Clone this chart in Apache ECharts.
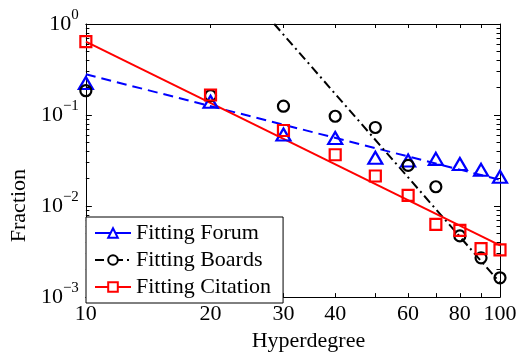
<!DOCTYPE html>
<html>
<head>
<meta charset="utf-8">
<script src="https://cdn.jsdelivr.net/npm/echarts@6.0.0/dist/echarts.min.js"></script>
<style>
	html, body { margin: 0; padding: 0; background: #fff; }
	#chart { width: 524px; height: 357px; }
</style>
</head>
<body>
<div id="chart"></div>
<script>
const degrees = [10, 20, 30, 40, 50, 60, 70, 80, 90, 100]

const forum = [0.225, 0.14, 0.061, 0.056, 0.034, 0.0316, 0.033, 0.029, 0.025, 0.021]
const boards = [0.185, 0.163, 0.125, 0.097, 0.073, 0.028, 0.0163, 0.0047, 0.0027, 0.00163]
const citation = [0.64, 0.166, 0.0676, 0.0366, 0.0214, 0.0131, 0.0063, 0.0054, 0.0034, 0.0033]

// fitted power laws, end points only
const forumFitX = [10, 100]
const forumFitY = [0.28, 0.0194]
const boardsFitX = [28.5, 100]
const boardsFitY = [1, 0.00144]
const citationFitX = [10, 100]
const citationFitY = [0.64, 0.0037]

const xTicks = [10, 20, 30, 40, 50, 60, 70, 80, 90, 100]
const xLabels = [10, 20, 30, 40, 60, 80, 100]
const yMinorTicks = [
	0.002, 0.003, 0.004, 0.005, 0.006, 0.007, 0.008, 0.009,
	0.02, 0.03, 0.04, 0.05, 0.06, 0.07, 0.08, 0.09,
	0.2, 0.3, 0.4, 0.5, 0.6, 0.7, 0.8, 0.9
]

const font = 'Liberation Serif'
const pairs = (xs, ys) => xs.map((x, i) => [x, ys[i]])

const supLabel = (v) => {
	const e = Math.round(Math.log10(v))
	return '{b|10}{s|' + (e === 0 ? '0' : '\u2212' + -e) + '}'
}

const logX = (extra) => ({
	type: 'log',
	min: 10,
	max: 100,
	splitLine: { show: false },
	axisLine: { show: true, lineStyle: { color: '#000', width: 1 } },
	axisTick: { show: true, inside: true, length: 4, customValues: xTicks, lineStyle: { color: '#000' } },
	axisLabel: { show: false },
	...extra
})

const logY = (extra) => ({
	type: 'log',
	min: 0.001,
	max: 1,
	splitLine: { show: false },
	axisLine: { show: true, lineStyle: { color: '#000', width: 1 } },
	axisTick: { show: true, inside: true, length: 6, lineStyle: { color: '#000' } },
	axisLabel: { show: false },
	...extra
})

const minorY = (position) => logY({
	position,
	axisLine: { show: false },
	axisTick: { show: true, inside: true, length: 3.5, customValues: yMinorTicks, lineStyle: { color: '#000' } }
})

const fitLine = (name, xs, ys, color, dash, symbol) => ({
	name,
	type: 'line',
	data: pairs(xs, ys),
	symbol,
	showSymbol: false,
	silent: true,
	z: 2,
	lineStyle: { color, width: 2, type: dash },
	itemStyle: { color: '#fff', borderColor: color, borderWidth: 1.8 }
})

const markers = (name, ys, color, symbol, size) => ({
	name,
	type: 'scatter',
	data: pairs(degrees, ys),
	symbol,
	symbolSize: size,
	silent: true,
	z: 3,
	itemStyle: { color: 'rgba(0,0,0,0)', borderColor: color, borderWidth: 2.2, opacity: 1 }
})

const chart = echarts.init(document.getElementById('chart'), null, { renderer: 'canvas' })

chart.setOption({
	animation: false,
	backgroundColor: '#fff',
	grid: { left: 82, right: 24, top: 24, bottom: 50, containLabel: false },
	xAxis: [
		logX({
			position: 'bottom',
			axisLabel: {
				show: true,
				customValues: xLabels,
				margin: 6,
				color: '#000',
				fontFamily: font,
				fontSize: 22
			},
			name: 'Hyperdegree',
			nameLocation: 'middle',
			nameGap: 29,
			nameTextStyle: { color: '#000', fontFamily: font, fontSize: 22, padding: [0, 0, 0, 31] }
		}),
		logX({ position: 'top' })
	],
	yAxis: [
		logY({
			position: 'left',
			axisLabel: {
				show: true,
				margin: 7,
				color: '#000',
				formatter: supLabel,
				rich: {
					b: { fontFamily: font, fontSize: 22, color: '#000' },
					s: { fontFamily: font, fontSize: 15, color: '#000', padding: [0, 0, 18, 0] }
				}
			},
			name: 'Fraction',
			nameLocation: 'middle',
			nameGap: 48,
			nameTextStyle: { color: '#000', fontFamily: font, fontSize: 22, padding: [0, 90, 0, 0] }
		}),
		logY({ position: 'right' }),
		minorY('left'),
		minorY('right')
	],
	legend: {
		left: 86,
		top: 217,
		orient: 'vertical',
		padding: [5, 12, 5, 8],
		itemGap: 5,
		itemWidth: 36,
		itemHeight: 12,
		backgroundColor: '#fff',
		borderColor: '#000',
		borderWidth: 1,
		borderRadius: 0,
		selectedMode: false,
		textStyle: { color: '#000', fontFamily: font, fontSize: 22, lineHeight: 22 },
		data: [
			{ name: 'Fitting Forum', lineStyle: { type: 'solid' } },
			{ name: 'Fitting Boards' },
			{ name: 'Fitting Citation' }
		]
	},
	series: [
		fitLine('Fitting Forum', forumFitX, forumFitY, '#0000ff', [10, 6], 'triangle'),
		fitLine('Fitting Boards', boardsFitX, boardsFitY, '#000000', [9, 4, 2, 4], 'circle'),
		fitLine('Fitting Citation', citationFitX, citationFitY, '#ff0000', 'solid', 'rect'),
		markers('Forum', forum, '#0000ff', 'triangle', [14, 12]),
		markers('Boards', boards, '#000000', 'circle', 11),
		markers('Citation', citation, '#ff0000', 'rect', 11)
	]
})
</script>
</body>
</html>
